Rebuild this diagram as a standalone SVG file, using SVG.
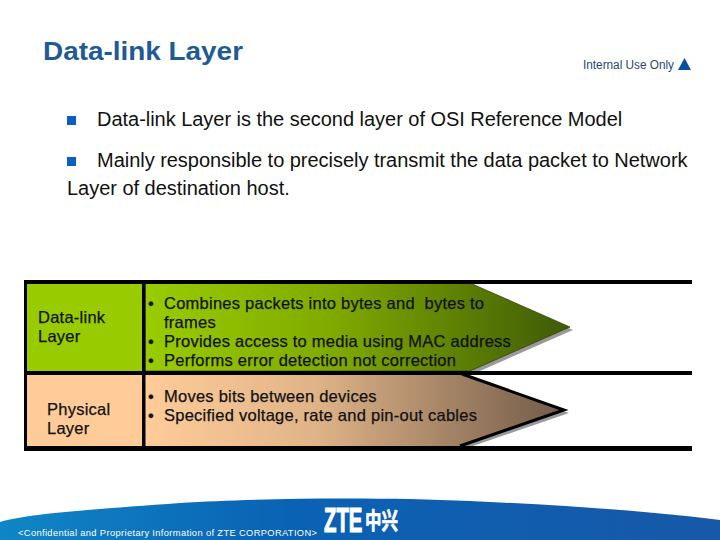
<svg xmlns="http://www.w3.org/2000/svg" width="720" height="540" viewBox="0 0 720 540">
<style>
text{font-family:"Liberation Sans",Arial,sans-serif}
.b{font-size:20px;fill:#111;letter-spacing:-.03px}
.t{font-size:16.500px;fill:#111;letter-spacing:.25px;stroke:#111;stroke-width:.25px;white-space:pre}
.bar{fill:#000}
.sq{fill:#0a5fc0}
</style>
<defs>
<linearGradient id="g1" x1="145" x2="570" y1="0" y2="0" gradientUnits="userSpaceOnUse"><stop offset="0" stop-color="#99cc00"/><stop offset=".45" stop-color="#7fa900"/><stop offset="1" stop-color="#3f5a08"/></linearGradient>
<linearGradient id="g2" x1="145" x2="566" y1="0" y2="0" gradientUnits="userSpaceOnUse"><stop offset="0" stop-color="#ffcc99"/><stop offset=".4" stop-color="#e0b488"/><stop offset="1" stop-color="#705a48"/></linearGradient>
<linearGradient id="f" x1="0" x2="720" y1="0" y2="0" gradientUnits="userSpaceOnUse"><stop offset="0" stop-color="#0f86c6"/><stop offset=".4" stop-color="#0a62b4"/><stop offset="1" stop-color="#1858a8"/></linearGradient>
</defs>
<rect width="720" height="540" fill="#fff"/>
<g id="footer">
<path d="M0 522C30 513 100 509 180 503C260 498 380 497 470 501C560 505 650 511 720 520V540H0Z" fill="url(#f)"/>
<text x="18" y="536" font-size="9.300" fill="#fff" letter-spacing=".37">&lt;Confidential and Proprietary Information of ZTE CORPORATION&gt;</text>
<text transform="translate(324 532) scale(.58 1)" font-size="35" font-weight="700" fill="#fff" stroke="#fff" stroke-width="1.200">ZTE</text>
<text transform="translate(365 529) scale(1 1.400)" font-size="16.500" font-weight="700" fill="#fff" stroke="#fff" stroke-width=".5" style="font-family:'Noto Sans CJK SC',sans-serif">中兴</text>
</g>
<g id="header">
<text x="43" y="60" font-size="25.500" font-weight="700" fill="#1f5a96" textLength="200" lengthAdjust="spacingAndGlyphs">Data-link Layer</text>
<text x="583" y="69" font-size="12" fill="#1e4a78" textLength="91" lengthAdjust="spacingAndGlyphs">Internal Use Only</text>
<path d="M678 70L684.500 58L691 70Z" fill="#0a4f9e"/>
</g>
<g id="bullets">
<rect class="sq" x="67" y="116" width="9" height="9"/>
<text class="b" x="97" y="126">Data-link Layer is the second layer of OSI Reference Model</text>
<rect class="sq" x="67" y="157" width="9" height="9"/>
<text class="b" x="97" y="167">Mainly responsible to precisely transmit the data packet to Network</text>
<text class="b" x="67" y="195">Layer of destination host.</text>
</g>
<g id="cell-datalink-label">
<rect x="26" y="283" width="117" height="89" fill="#99cc00"/>
<text class="t" x="38" y="323">Data-link</text>
<text class="t" x="38" y="342">Layer</text>
</g>
<g id="cell-physical-label">
<rect x="26" y="374" width="117" height="72" fill="#ffcc99"/>
<text class="t" x="47" y="415">Physical</text>
<text class="t" x="47" y="434">Layer</text>
</g>
<g id="arrow-datalink">
<path d="M145 287H473L573 330L473 374H145Z" fill="#9a9a9a"/>
<path d="M145 283H470L570 327L470 371H145Z" fill="url(#g1)" stroke="#2c3c00" stroke-width=".7"/>
<text class="t" x="148" y="309">•</text><text class="t" x="164" y="309">Combines packets into bytes and  bytes to</text>
<text class="t" x="164" y="328">frames</text>
<text class="t" x="148" y="347">•</text><text class="t" x="164" y="347">Provides access to media using MAC address</text>
<text class="t" x="148" y="366">•</text><text class="t" x="164" y="366">Performs error detection not correction</text>
</g>
<g id="arrow-physical">
<path d="M145 378H464L569 413L464 449H145Z" fill="#9a9a9a"/>
<path d="M145 374H462L564 410L460 446H145Z" fill="url(#g2)"/>
<path d="M462 374L564 410L460 446" fill="none" stroke="#000" stroke-width="3"/>
<text class="t" x="148" y="402">•</text><text class="t" x="164" y="402">Moves bits between devices</text>
<text class="t" x="148" y="421">•</text><text class="t" x="164" y="421">Specified voltage, rate and pin-out cables</text>
</g>
<g id="connectors">
<rect class="bar" x="24" y="280" width="668" height="4"/>
<rect class="bar" x="24" y="371" width="668" height="4"/>
<rect class="bar" x="24" y="446" width="668" height="5"/>
<rect class="bar" x="24" y="280" width="3" height="170"/>
<rect class="bar" x="142" y="280" width="3.500" height="170"/>
</g>
</svg>
